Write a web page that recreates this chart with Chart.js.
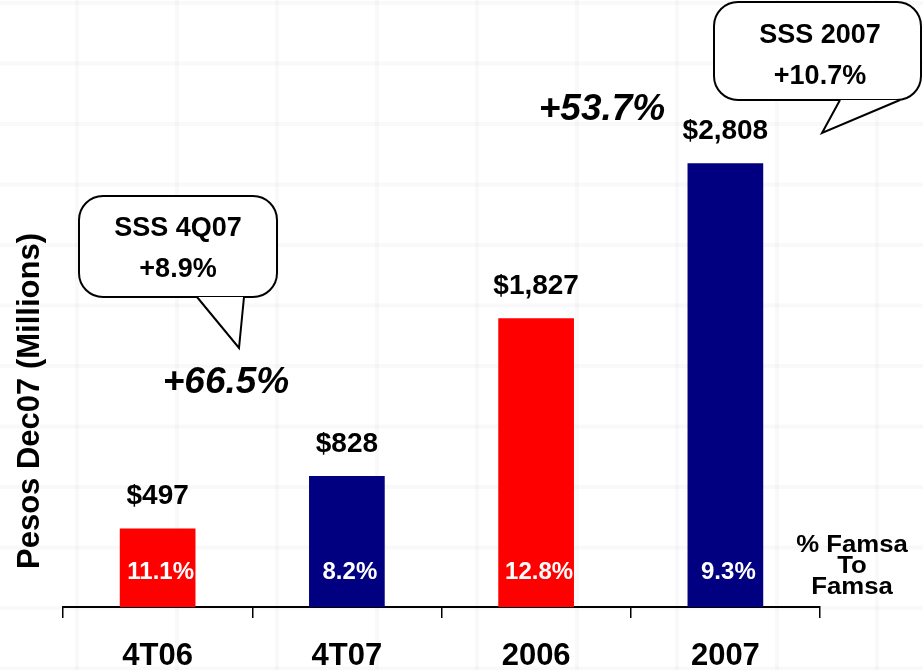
<!DOCTYPE html>
<html>
<head>
<meta charset="utf-8">
<script src="https://cdn.jsdelivr.net/npm/chart.js@4.4.1/dist/chart.umd.min.js"></script>
<style>
  html, body { margin: 0; padding: 0; background: #fff; }
  #wrap { width: 923px; height: 670px; position: relative; }
</style>
</head>
<body>
<div id="wrap"><canvas id="myChart" width="923" height="670"></canvas></div>
<script>
// sales, pesos Dec07 (millions)
const categories = ["4T06", "4T07", "2006", "2007"];
const sales = [497, 828, 1827, 2808];
const famsaShare = ["11.1%", "8.2%", "12.8%", "9.3%"];
const barColors = ["#ff0000", "#000080", "#ff0000", "#000080"];
const growthLabels = ["+66.5%", "+53.7%"];
const sssQuarter = ["SSS 4Q07", "+8.9%"];
const sssYear = ["SSS 2007", "+10.7%"];
const shareTitle = ["% Famsa", "To", "Famsa"];
const yTitle = "Pesos Dec07 (Millions)";

const FONT = '"Liberation Sans", Arial, sans-serif';

const money = (v) => "$" + v.toLocaleString("en-US");

// faint paper grid behind everything
const paperGrid = {
  id: "paperGrid",
  beforeDraw(chart) {
    const ctx = chart.ctx;
    ctx.save();
    ctx.fillStyle = "#fff";
    ctx.fillRect(0, 0, chart.width, chart.height);
    ctx.strokeStyle = "rgba(0,0,0,0.022)";
    ctx.lineWidth = 4;
    for (let x = 77; x < chart.width; x += 100) {
      ctx.beginPath(); ctx.moveTo(x, 0); ctx.lineTo(x, chart.height); ctx.stroke();
    }
    for (let y = 3; y < chart.height; y += 60.5) {
      ctx.beginPath(); ctx.moveTo(0, y); ctx.lineTo(chart.width, y); ctx.stroke();
    }
    ctx.restore();
  }
};

const callout = (ctx, box, tail, lines) => {
  const [x, y, w, h, r] = box;
  ctx.save();
  ctx.lineWidth = 2;
  ctx.strokeStyle = "#000";
  ctx.fillStyle = "#fff";
  ctx.beginPath();
  ctx.roundRect(x, y, w, h, r);
  ctx.fill();
  ctx.stroke();
  // tail
  ctx.beginPath();
  ctx.moveTo(tail[0][0], tail[0][1]);
  ctx.lineTo(tail[1][0], tail[1][1]);
  ctx.lineTo(tail[2][0], tail[2][1]);
  ctx.closePath();
  ctx.fill();
  ctx.beginPath();
  ctx.moveTo(tail[0][0], tail[0][1]);
  ctx.lineTo(tail[1][0], tail[1][1]);
  ctx.lineTo(tail[2][0], tail[2][1]);
  ctx.stroke();
  ctx.fillStyle = "#000";
  ctx.font = "bold 27px " + FONT;
  ctx.textAlign = "center";
  ctx.textBaseline = "middle";
  ctx.fillText(lines[0], lines[2], lines[3]);
  ctx.fillText(lines[1], lines[2], lines[4]);
  ctx.restore();
};

const labels = {
  id: "labels",
  afterDatasetsDraw(chart) {
    const ctx = chart.ctx;
    const meta = chart.getDatasetMeta(0);
    ctx.save();
    ctx.textAlign = "center";
    ctx.textBaseline = "middle";
    meta.data.forEach((bar, i) => {
      ctx.fillStyle = "#000";
      ctx.font = "bold 28px " + FONT;
      ctx.fillText(money(sales[i]), bar.x, bar.y - 32);
      ctx.fillStyle = "#fff";
      ctx.font = "bold 24px " + FONT;
      ctx.fillText(famsaShare[i], bar.x + 3, bar.base - 35);
    });

    ctx.fillStyle = "#000";
    ctx.font = "italic bold 37px " + FONT;
    ctx.fillText(growthLabels[0], 226, 383);
    ctx.fillText(growthLabels[1], 602, 110);

    // stacked note on the right, a bit widened
    ctx.save();
    ctx.translate(852, 0);
    ctx.scale(1.12, 1);
    ctx.font = "bold 23px " + FONT;
    shareTitle.forEach((t, i) => ctx.fillText(t, 0, 546 + i * 21));
    ctx.restore();

    ctx.save();
    ctx.translate(30, 401);
    ctx.rotate(-Math.PI / 2);
    ctx.font = "bold 31px " + FONT;
    ctx.fillText(yTitle, 0, 0);
    ctx.restore();
    ctx.restore();

    callout(ctx, [79, 196, 198, 101, 24], [[197, 297], [239, 348], [244, 297]],
      [sssQuarter[0], sssQuarter[1], 178, 229, 270]);
    callout(ctx, [714, 2, 207, 98, 24], [[840, 100], [822, 133], [900, 100]],
      [sssYear[0], sssYear[1], 820, 36, 77]);
  }
};

new Chart("myChart", {
  type: "bar",
  data: {
    labels: categories,
    datasets: [{
      data: sales,
      backgroundColor: barColors,
      borderWidth: 0,
      barPercentage: 0.4,
      categoryPercentage: 1
    }]
  },
  options: {
    responsive: false,
    animation: false,
    layout: { padding: { left: 63, right: 103, top: 0, bottom: 0 } },
    plugins: { legend: { display: false }, tooltip: { enabled: false } },
    scales: {
      x: {
        offset: true,
        afterFit: (scale) => { scale.height = 63; },
        border: { display: true, color: "#000", width: 2 },
        grid: {
          offset: true,
          drawOnChartArea: false,
          drawTicks: true,
          tickLength: 11,
          color: "#000",
          lineWidth: 1.5
        },
        ticks: {
          color: "#000",
          padding: 20,
          font: { family: FONT, size: 31, weight: "bold" }
        }
      },
      y: { display: false, min: 0, max: 3840 }
    }
  },
  plugins: [paperGrid, labels]
});
</script>
</body>
</html>
